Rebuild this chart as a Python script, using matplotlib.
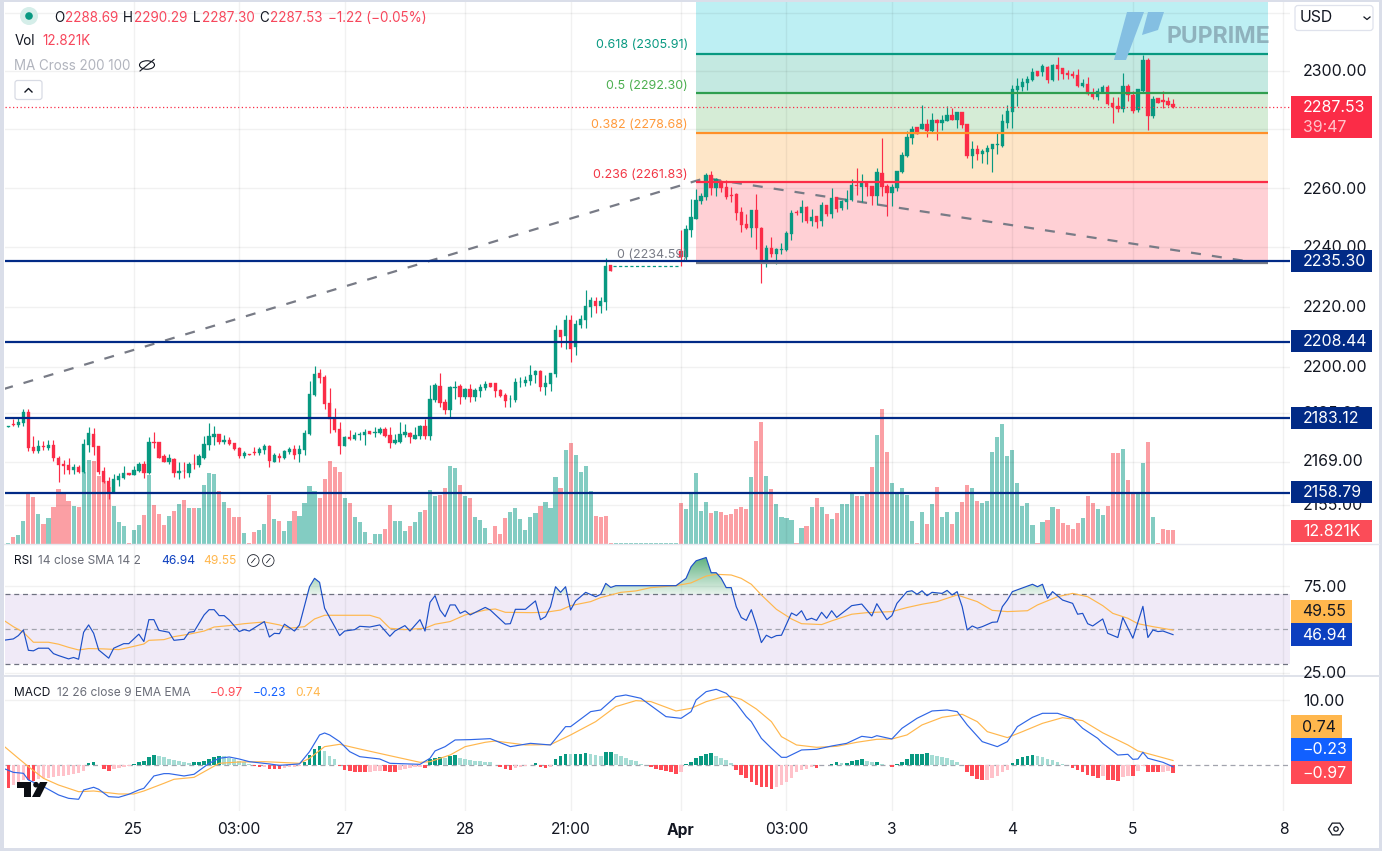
import numpy as np
import matplotlib
matplotlib.use("Agg")
import matplotlib.pyplot as plt
from matplotlib.patches import Rectangle, Polygon, Circle, Ellipse, FancyBboxPatch
from matplotlib.path import Path
from matplotlib.ticker import NullLocator

plt.rcParams['font.family'] = ['Inter', 'DejaVu Sans']

W, H = 1382, 851

opens = [
    2180.3, 2181.3, 2180.9, 2181.7, 2185.1, 2173.6, 2172.4, 2174.0, 2173.4, 2174.4,
    2170.0, 2168.3, 2168.0, 2166.3, 2167.3, 2165.7, 2174.4, 2177.9, 2174.0, 2166.0,
    2162.7, 2159.0, 2163.0, 2163.7, 2165.4, 2164.7, 2166.0, 2168.3, 2165.4, 2175.4,
    2175.4, 2170.7, 2169.0, 2169.7, 2165.4, 2166.0, 2165.3, 2168.3, 2168.0, 2170.0,
    2174.4, 2176.9, 2177.9, 2175.4, 2175.9, 2175.1, 2173.4, 2170.7, 2171.4, 2172.0,
    2171.7, 2172.7, 2174.0, 2169.0, 2170.7, 2170.0, 2172.0, 2173.0, 2171.4, 2172.7,
    2177.9, 2190.8, 2198.0, 2196.6, 2188.1, 2183.3, 2179.6, 2174.0, 2177.0, 2176.5,
    2177.5, 2177.5, 2178.9, 2178.3, 2178.2, 2179.6, 2177.5, 2175.1, 2175.5, 2177.5,
    2178.2, 2176.5, 2177.2, 2180.6, 2177.2, 2189.1, 2193.8, 2188.5, 2186.0, 2193.1,
    2193.8, 2190.1, 2192.8, 2190.1, 2192.2, 2193.1, 2194.8, 2194.8, 2192.5, 2190.8,
    2189.3, 2189.1, 2194.9, 2194.8, 2195.5, 2197.2, 2198.7, 2193.5, 2194.5, 2197.6,
    2212.2, 2210.2, 2215.6, 2206.5, 2213.9, 2215.6, 2219.9, 2221.9, 2220.3, 2221.6,
    2233.9, np.nan, np.nan, np.nan, np.nan, np.nan, np.nan, np.nan, np.nan, np.nan,
    np.nan, np.nan, np.nan, np.nan, 2238.7, 2236.6, 2245.8, 2249.5, 2255.6, 2256.8,
    2264.4, 2260.1, 2262.1, 2260.4, 2257.5, 2257.8, 2251.8, 2247.8, 2246.4, 2252.5,
    2246.4, 2235.7, 2239.7, 2237.7, 2239.1, 2239.1, 2244.4, 2251.8, 2251.5, 2253.5,
    2248.8, 2250.5, 2248.8, 2254.2, 2251.1, 2256.8, 2253.2, 2255.2, 2255.8, 2261.1,
    2260.4, 2261.7, 2260.7, 2257.2, 2265.1, 2260.7, 2258.2, 2260.1, 2265.4, 2270.8,
    2277.1, 2280.7, 2280.1, 2281.8, 2279.4, 2283.2, 2282.1, 2282.8, 2285.0, 2283.2,
    2286.0, 2281.8, 2270.8, 2273.1, 2271.5, 2272.1, 2273.1, 2274.5, 2274.1, 2282.2,
    2285.9, 2293.4, 2294.4, 2296.0, 2297.0, 2300.0, 2299.7, 2301.4, 2297.0, 2302.0,
    2301.0, 2299.4, 2299.0, 2298.7, 2294.8, 2295.5, 2292.4, 2291.1, 2292.8, 2294.4,
    2289.1, 2288.0, 2287.0, 2294.8, 2291.8, 2286.6, 2293.1, 2303.7, 2284.6, 2290.8,
    2290.1, 2289.7, 2288.69]
highs = [
    2180.7, 2182.9, 2183.1, 2186.1, 2186.1, 2177.3, 2176.1, 2175.6, 2175.9, 2176.1,
    2170.7, 2169.6, 2170.3, 2168.3, 2168.0, 2176.2, 2180.2, 2179.9, 2174.0, 2167.3,
    2164.0, 2165.0, 2165.4, 2167.7, 2165.4, 2167.7, 2169.0, 2169.3, 2176.9, 2178.5,
    2175.4, 2171.4, 2171.4, 2170.0, 2168.7, 2169.0, 2169.0, 2171.4, 2171.4, 2177.2,
    2181.6, 2180.6, 2177.9, 2177.5, 2176.9, 2175.1, 2173.7, 2172.4, 2171.4, 2173.7,
    2173.7, 2174.7, 2174.4, 2171.7, 2171.7, 2172.7, 2173.7, 2174.4, 2174.4, 2179.2,
    2195.5, 2200.3, 2199.3, 2197.3, 2193.1, 2186.4, 2181.9, 2177.3, 2179.2, 2178.5,
    2178.5, 2179.6, 2178.9, 2180.2, 2180.2, 2180.2, 2180.2, 2177.9, 2181.9, 2181.2,
    2178.5, 2180.2, 2180.9, 2182.9, 2194.1, 2194.8, 2197.9, 2189.5, 2193.8, 2195.5,
    2194.5, 2193.1, 2194.5, 2193.1, 2194.5, 2195.5, 2194.8, 2194.8, 2192.8, 2191.5,
    2190.8, 2196.5, 2196.8, 2197.1, 2200.7, 2199.0, 2199.0, 2197.5, 2198.0, 2213.9,
    2212.2, 2217.2, 2217.2, 2215.6, 2217.2, 2225.6, 2223.3, 2223.3, 2223.3, 2236.3,
    2233.9, np.nan, np.nan, np.nan, np.nan, np.nan, np.nan, np.nan, np.nan, np.nan,
    np.nan, np.nan, np.nan, np.nan, 2245.8, 2247.4, 2256.2, 2259.5, 2258.1, 2265.1,
    2265.8, 2263.4, 2262.8, 2262.8, 2260.4, 2258.2, 2253.5, 2251.1, 2252.5, 2257.8,
    2246.8, 2240.7, 2243.4, 2239.7, 2241.4, 2245.4, 2252.5, 2252.5, 2255.8, 2253.8,
    2252.8, 2250.5, 2255.2, 2254.2, 2259.9, 2256.8, 2255.8, 2259.2, 2263.1, 2266.8,
    2264.8, 2261.7, 2260.7, 2266.8, 2276.9, 2261.4, 2261.4, 2265.8, 2272.2, 2279.3,
    2281.1, 2280.7, 2288.4, 2283.5, 2285.6, 2283.5, 2285.0, 2288.0, 2287.3, 2286.0,
    2286.0, 2281.8, 2275.8, 2274.5, 2273.1, 2274.5, 2274.8, 2278.7, 2285.3, 2288.3,
    2295.1, 2297.7, 2297.7, 2298.3, 2301.0, 2300.0, 2302.4, 2301.7, 2302.4, 2304.7,
    2301.0, 2300.4, 2300.0, 2300.7, 2297.3, 2298.0, 2294.1, 2294.1, 2295.1, 2295.1,
    2291.1, 2291.1, 2299.3, 2295.5, 2293.1, 2293.8, 2305.7, 2304.4, 2291.4, 2290.8,
    2293.1, 2291.1, 2290.29]
lows = [
    2180.2, 2180.7, 2180.2, 2180.7, 2172.4, 2171.8, 2171.8, 2172.7, 2172.9, 2169.3,
    2162.5, 2164.9, 2165.1, 2165.1, 2165.2, 2165.3, 2172.0, 2171.0, 2165.1, 2162.0,
    2156.8, 2158.7, 2161.0, 2163.4, 2164.7, 2164.7, 2165.6, 2163.7, 2165.0, 2173.4,
    2170.0, 2168.7, 2168.3, 2164.0, 2163.4, 2163.7, 2164.0, 2166.7, 2167.3, 2169.7,
    2172.7, 2174.4, 2174.7, 2174.7, 2174.4, 2172.7, 2170.0, 2170.0, 2171.0, 2171.0,
    2171.0, 2171.4, 2167.3, 2168.7, 2169.0, 2169.7, 2171.4, 2169.7, 2169.0, 2171.0,
    2177.6, 2190.5, 2194.8, 2186.1, 2178.3, 2178.6, 2171.4, 2174.0, 2175.9, 2175.9,
    2175.9, 2174.4, 2177.9, 2176.9, 2177.9, 2176.9, 2173.4, 2174.7, 2175.2, 2176.9,
    2175.2, 2176.2, 2176.5, 2176.2, 2175.9, 2188.5, 2186.8, 2184.6, 2183.3, 2189.5,
    2187.8, 2189.5, 2188.5, 2188.8, 2190.1, 2192.5, 2193.5, 2190.1, 2190.1, 2186.8,
    2186.8, 2188.5, 2193.5, 2193.8, 2194.1, 2194.8, 2192.2, 2190.8, 2192.2, 2196.7,
    2206.6, 2205.8, 2201.6, 2204.0, 2212.9, 2212.9, 2216.6, 2217.9, 2217.9, 2218.9,
    2232.0, np.nan, np.nan, np.nan, np.nan, np.nan, np.nan, np.nan, np.nan, np.nan,
    np.nan, np.nan, np.nan, np.nan, 2233.7, 2235.5, 2243.4, 2249.5, 2254.5, 2255.8,
    2257.5, 2257.2, 2258.5, 2256.2, 2255.2, 2249.1, 2245.1, 2246.1, 2243.4, 2239.4,
    2228.0, 2233.3, 2236.7, 2234.3, 2237.7, 2238.7, 2242.4, 2250.8, 2248.5, 2248.1,
    2247.1, 2246.4, 2247.1, 2250.5, 2249.8, 2251.8, 2252.5, 2252.8, 2255.5, 2257.5,
    2255.2, 2257.2, 2254.2, 2254.2, 2257.2, 2250.5, 2253.8, 2259.0, 2265.1, 2270.5,
    2275.0, 2278.4, 2280.0, 2277.4, 2279.0, 2276.4, 2279.7, 2282.8, 2283.2, 2280.4,
    2280.4, 2270.1, 2266.8, 2269.4, 2268.4, 2268.1, 2265.4, 2271.5, 2273.8, 2280.4,
    2280.4, 2288.0, 2293.1, 2293.4, 2296.6, 2298.3, 2298.3, 2295.7, 2296.7, 2297.0,
    2297.3, 2297.3, 2297.6, 2294.4, 2294.4, 2291.8, 2290.4, 2290.1, 2292.4, 2288.4,
    2282.2, 2286.0, 2286.0, 2289.7, 2285.6, 2286.0, 2292.8, 2279.8, 2283.9, 2288.8,
    2287.4, 2288.1, 2287.30]
closes = [
    2180.7, 2180.9, 2182.0, 2185.1, 2173.4, 2172.4, 2174.0, 2173.7, 2174.4, 2170.0,
    2168.0, 2167.7, 2166.3, 2167.3, 2165.7, 2174.7, 2178.2, 2173.7, 2165.7, 2162.4,
    2158.8, 2163.4, 2164.4, 2165.4, 2164.7, 2166.3, 2168.3, 2165.4, 2175.4, 2175.1,
    2170.3, 2169.0, 2170.0, 2165.4, 2166.0, 2165.8, 2168.3, 2168.1, 2170.7, 2174.7,
    2177.2, 2177.9, 2175.4, 2175.9, 2174.7, 2173.0, 2170.7, 2171.7, 2171.0, 2171.7,
    2173.0, 2174.0, 2169.3, 2171.0, 2170.0, 2172.4, 2173.0, 2171.0, 2173.0, 2178.2,
    2191.1, 2197.7, 2196.3, 2187.8, 2182.9, 2179.3, 2174.0, 2177.0, 2176.4, 2177.5,
    2177.9, 2178.5, 2177.9, 2178.5, 2179.6, 2177.2, 2175.1, 2175.9, 2177.9, 2178.5,
    2176.9, 2177.5, 2180.6, 2177.2, 2189.5, 2194.1, 2188.1, 2186.0, 2193.5, 2193.5,
    2190.1, 2192.8, 2190.1, 2192.5, 2193.5, 2194.5, 2193.5, 2192.1, 2190.5, 2188.8,
    2189.5, 2195.2, 2195.2, 2195.8, 2197.5, 2198.7, 2193.5, 2194.8, 2198.0, 2212.2,
    2209.8, 2215.6, 2206.1, 2214.2, 2215.9, 2220.2, 2222.3, 2220.3, 2221.9, 2233.7,
    2232.0, np.nan, np.nan, np.nan, np.nan, np.nan, np.nan, np.nan, np.nan, np.nan,
    np.nan, np.nan, np.nan, np.nan, 2236.7, 2246.1, 2250.1, 2255.8, 2257.2, 2264.4,
    2260.1, 2263.1, 2260.1, 2256.8, 2257.2, 2251.5, 2247.4, 2246.4, 2252.5, 2246.4,
    2235.7, 2239.7, 2237.7, 2239.4, 2239.4, 2244.8, 2251.5, 2251.5, 2253.5, 2248.8,
    2250.1, 2248.4, 2254.2, 2251.1, 2256.5, 2252.8, 2255.5, 2256.2, 2261.1, 2260.7,
    2262.1, 2260.4, 2257.2, 2265.4, 2260.4, 2258.2, 2260.4, 2265.8, 2271.2, 2277.4,
    2280.1, 2278.4, 2281.9, 2279.4, 2283.2, 2282.1, 2283.2, 2285.0, 2283.2, 2286.0,
    2281.5, 2270.8, 2273.1, 2271.5, 2272.5, 2273.5, 2274.8, 2274.8, 2282.8, 2286.3,
    2293.8, 2294.8, 2296.3, 2297.3, 2299.7, 2298.3, 2301.7, 2297.0, 2302.0, 2300.7,
    2299.0, 2298.7, 2298.3, 2294.8, 2295.8, 2292.1, 2291.1, 2293.1, 2294.4, 2288.7,
    2287.6, 2287.0, 2294.8, 2291.8, 2286.3, 2293.8, 2303.7, 2284.6, 2290.4, 2288.8,
    2289.4, 2288.4, 2287.53]
volumes = [
    1.2, 6.6, 8.3, 20.9, 45.0, 42.3, 27.1, 18.2, 23.5, 33.4,
    49.5, 45.9, 38.7, 34.3, 33.4, 64.7, 75.4, 74.5, 61.1, 56.6,
    51.3, 34.3, 20.0, 16.4, 1.2, 12.8, 17.3, 26.2, 62.0, 35.2,
    27.1, 17.3, 25.3, 29.8, 36.1, 39.6, 32.5, 32.5, 32.5, 53.0,
    63.8, 62.9, 47.7, 37.8, 32.5, 24.4, 24.4, 10.1, 1.2, 11.0,
    12.8, 18.2, 44.1, 22.6, 20.9, 11.9, 20.9, 29.8, 25.3, 37.0,
    52.2, 47.7, 41.4, 58.4, 74.5, 69.1, 64.7, 41.4, 37.0, 24.4,
    20.0, 11.0, 1.2, 9.2, 9.2, 13.7, 35.2, 20.9, 20.9, 11.9,
    16.4, 20.0, 28.9, 30.7, 48.6, 43.2, 44.1, 50.4, 70.0, 68.2,
    53.0, 42.9, 41.1, 24.1, 21.5, 14.3, 0.9, 16.1, 8.9, 23.2,
    28.6, 32.2, 22.4, 12.5, 24.1, 27.7, 34.0, 37.5, 32.2, 59.9,
    50.0, 83.9, 90.2, 79.5, 64.4, 69.7, 47.4, 25.0, 24.1, 25.0,
    0.9, 0.6, 0.6, 0.6, 0.6, 0.6, 0.6, 0.6, 0.6, 0.6,
    0.6, 0.6, 0.6, 0.6, 36.7, 31.3, 45.6, 63.5, 29.5, 37.5,
    27.7, 29.5, 28.6, 25.9, 26.8, 31.3, 33.0, 31.3, 59.9, 92.0,
    109.0, 60.8, 49.0, 35.8, 24.1, 23.2, 21.5, 0.9, 14.3, 16.1,
    33.0, 41.1, 33.0, 26.8, 22.4, 27.7, 35.8, 35.8, 45.6, 42.9,
    42.9, 45.6, 68.8, 97.6, 120.8, 82.2, 54.5, 44.7, 50.0, 44.0,
    20.9, 0.9, 28.9, 18.2, 36.0, 51.3, 24.4, 28.9, 18.2, 28.9,
    37.8, 53.0, 50.4, 38.7, 37.0, 38.7, 82.5, 95.9, 107.6, 79.0,
    84.3, 54.9, 34.3, 37.0, 17.3, 1.2, 20.0, 21.8, 33.4, 31.6,
    19.1, 17.3, 13.7, 19.1, 23.6, 43.2, 37.0, 31.6, 26.2, 34.3,
    81.7, 81.7, 85.3, 57.5, 46.0, 46.0, 72.8, 91.5, 24.4, 1.2,
    13.7, 12.8, 12.821]
# bars where the volume colour differs from the candle
vol_red_bars = [119, 120]

levels = [2235.30, 2208.44, 2183.12, 2158.79]
fib_vals = [2305.91, 2292.30, 2278.68, 2261.83, 2234.59]
fib_names = ["0.618", "0.5", "0.382", "0.236", "0"]
grid_prices = [2320, 2300, 2280, 2260, 2240, 2220, 2200, 2185, 2169, 2155]
trend_x = [0, 139.8, 249]
trend_y = [2192.7, 2263.3, 2234.9]

rsi_x = [0, 2, 3, 4, 5, 6, 7, 9, 10, 11, 13, 14, 15, 16, 17, 18, 19, 21, 22, 24, 25, 27, 28, 29, 30,
         31, 33, 34, 36, 37, 38, 40, 41, 42, 43, 44, 45, 47, 48, 49, 52, 53, 54, 55, 56, 58, 59, 61, 62, 63,
         64, 67, 68, 70, 71, 73, 75, 77, 78, 80, 81, 83, 84, 85, 86, 87, 88, 89, 90, 91, 92, 93, 96, 97, 100,
         101, 102, 104, 106, 107, 108, 109, 110, 111, 112, 113, 114, 115, 116, 118, 119, 120, 121, 122, 134,
         136, 137, 138, 140, 141, 142, 143, 144, 145, 146, 147, 148, 149, 150, 151, 152, 153, 154, 155, 157,
         158, 159, 160, 161, 162, 163, 164, 165, 166, 169, 171, 173, 174, 176, 177, 178, 180, 181, 182, 183,
         184, 185, 187, 188, 189, 190, 191, 192, 193, 194, 195, 197, 198, 199, 200, 201, 205, 206, 207, 208,
         209, 211, 213, 214, 215, 216, 217, 219, 220, 222, 223, 225, 227, 228, 229, 230, 231, 233]
rsi_y = [43.7, 44.5, 46.4, 49.6, 38, 37.7, 39.2, 39.2, 36.1, 35, 33.1, 33.9, 32.9, 48.3, 52.5, 47.7, 38.2, 33.5, 39.2, 41.8, 41.8, 47.2, 43, 55.5, 55.5,
         49.4, 48.3, 43.7, 44.3, 48.3, 48.7, 58.2, 61.2, 61.2, 57.8, 57.8, 55.3, 48.7, 49.8, 49, 54.4, 45.6, 47.7, 47.5, 52.9, 49, 52.5, 74.3, 79.1, 76.8,
         62, 46.4, 49, 49.8, 51.7, 51.3, 52.5, 46, 49, 52.1, 49, 55.5, 49, 65.4, 69.2, 61, 57.2, 63.9, 63.9, 59.1, 60.5, 58.2, 62.5, 61, 53,
         53.2, 61.4, 61.4, 66.2, 55.5, 57.2, 62.9, 74.3, 71.1, 74.3, 61, 66.2, 68.6, 71.1, 68.6, 70, 76.2, 73.9, 74.9, 74.9,
         79.1, 85.7, 89.1, 91, 82.3, 82.3, 79.1, 73.8, 73.8, 62.9, 56.7, 55.1, 61.2, 52.5, 42.4, 46.6, 45.1, 46.4, 46.6, 59.3,
         57.8, 60.6, 55.3, 56.3, 55.1, 59.7, 56.3, 60.6, 56.8, 63.5, 64.4, 57.6, 64.6, 55.5, 57.8, 64.8, 71.5, 72, 70, 72,
         69.2, 71.1, 70.5, 72.2, 69.6, 71.5, 62.9, 49.6, 51.9, 50.6, 51.5, 54, 54.2, 62.9, 66.7, 71.5, 75.7, 74.3, 75.7, 67.7,
         71.5, 66.7, 64.8, 58.6, 59.1, 53.2, 51.9, 55.9, 47.7, 45.3, 56.7, 44.9, 63.1, 45.3, 49.6, 48.7, 49, 46.94]
rsi_ma_x = [0, 2, 4, 6, 9, 11, 13, 15, 17, 20, 23, 25, 28, 29, 32, 34, 37, 40, 42, 45, 48, 52, 55, 57, 60, 62, 64, 67, 73, 75,
            77, 80, 84, 86, 89, 92, 96, 98, 100, 105, 108, 111, 113, 117, 119, 123, 126, 129, 134, 137, 140, 142, 145, 147, 149,
            151, 154, 157, 159, 163, 165, 169, 172, 177, 180, 183, 186, 190, 194, 197, 200, 204, 206, 210, 213, 216, 219, 221, 224,
            226, 229, 233]
rsi_ma_y = [55.3, 51.5, 48.3, 42.6, 42.6, 41.5, 39.7, 38.2, 39, 38.8, 38.4, 39.6, 41.6, 43.7, 44.1, 45.8, 47.2, 49, 51.3, 52.1, 53.2, 54.2, 52.5, 50.6, 51.5, 55.9, 58, 58, 58, 56.3,
            50.6, 49.8, 50.6, 52.9, 54.4, 58.2, 61, 61.6, 59.7, 59.5, 59.7, 61, 63.5, 65.8, 68.1, 71.1, 71.9, 73.8, 74.9, 76.5, 80.4, 81.4, 81, 79.1, 75.7,
            69.6, 61.4, 55.9, 53.2, 52.7, 54.8, 58.6, 59.5, 60.1, 62.4, 64.3, 65.8, 69.6, 65.8, 60.8, 60.1, 60.6, 63.9, 68.6, 70.5, 68.6, 63.5, 59.1, 56.3,
            53.2, 51.5, 49.55]

macd_x = [0, 2, 4, 5, 8, 11, 13, 15, 16, 18, 19, 21, 23, 25, 27, 28, 30, 32, 33, 36, 38, 41, 43, 45, 47, 49, 53, 55, 59, 61, 63, 64, 65, 67,
          69, 71, 75, 77, 83, 85, 86, 88, 90, 93, 97, 98, 101, 105, 109, 112, 113, 117, 119, 122, 124, 127, 132, 135, 137, 138, 140, 142, 144, 146,
          148, 149, 151, 153, 155, 156, 159, 162, 165, 168, 171, 173, 174, 177, 179, 182, 185, 188, 190, 192, 195, 198, 200, 202, 205, 207, 210,
          213, 215, 218, 219, 222, 224, 225, 226, 227, 228, 231, 233]
macd_y = [-0.46, -1.08, -1.23, -2.26, -3.28, -4.56, -5.08, -5.23, -3.8, -3.38, -3.69, -4.82, -4.92, -4.46, -3.79, -3.54, -1.64, -1.28, -1.28, -1.64, -1.38, 0.31, 1.08, 1.28, 0.97, 0.56, 0.21, 0, 0.21, 2.1, 4.67, 4.97, 4.67, 3.64,
          2.1, 1.33, 0.97, 0.31, 0.15, 1.08, 2.21, 2.87, 3.9, 3.95, 4.1, 3.79, 2.87, 3.38, 3.13, 5.95, 5.95, 8.26, 8.51, 10.56, 10.82, 10.31, 7.49, 7.23, 8.26, 10.05, 11.33, 11.69, 11.08, 9.54,
          7.49, 6.72, 4.15, 2.62, 1.23, 1.23, 2.36, 2.46, 2.97, 3.38, 4.46, 4.26, 4.56, 4.05, 5.69, 7.23, 8.36, 8.51, 8.26, 6.21, 3.64, 2.87, 3.64, 5.95, 7.38, 8, 8,
          7.23, 5.69, 4.15, 3.38, 1.58, 1.69, 0.92, 0.97, 2, 1.08, 0.46, -0.23]
signal_x = [0, 3, 5, 8, 11, 15, 18, 23, 26, 28, 32, 34, 38, 41, 43, 47, 52, 59, 61, 64, 67, 71, 77, 83, 85, 89, 92, 96, 98, 104, 109, 113, 118, 122,
            126, 129, 134, 137, 140, 143, 145, 147, 150, 153, 155, 158, 162, 166, 170, 174, 177, 180, 183, 187, 191, 194, 196, 200, 203, 207, 211, 215,
            219, 224, 226, 229, 233]
signal_y = [3.03, 1.08, -0.2, -2, -3.03, -4.06, -3.95, -4.41, -4.41, -3.95, -2.77, -2.15, -1.85, -0.56, 0.31, 0.51, 0.56, 0.31, 1.08, 2.87, 3.23, 2.51, 1.48, 0.46, 0.56, 1.59, 2.87, 3.54, 3.74, 3.13, 3.18, 4.67, 6.72, 9.03,
            9.95, 9.8, 8.36, 8.77, 9.79, 10.46, 10.62, 10.15, 8.67, 6.72, 4.41, 3.13, 2.77, 2.92, 3.54, 4, 4.05, 4.67, 6.21, 7.38, 7.85, 6.72, 5.18, 4.26, 5.18, 6.46, 7.33, 6.87,
            5, 3.13, 2.21, 1.59, 0.74]
hist = [
    -3.5, -3.0, -2.5, -2.2, -2.3, -2.4, -2.1, -2.0, -1.9, -1.8,
    -1.7, -1.6, -1.5, -1.4, -1.2, -0.9, 0.3, 0.5, 0.05, -0.5,
    -0.8, -0.5, -0.4, -0.3, -0.1, 0.2, 0.5, 0.6, 1.3, 1.6,
    1.4, 1.3, 1.0, 0.8, 0.6, 0.5, 0.4, 0.45, 0.5, 0.7,
    1.0, 1.3, 1.5, 1.4, 1.2, 1.0, 0.7, 0.5, 0.2, -0.1,
    -0.3, -0.25, -0.5, -0.55, -0.6, -0.4, -0.3, -0.2, -0.1, 0.5,
    1.6, 2.5, 2.9, 2.2, 1.5, 0.9, -0.1, -0.7, -0.9, -1.0,
    -1.02, -1.05, -1.0, -0.9, -0.8, -0.9, -1.0, -1.05, -0.7, -0.5,
    -0.4, -0.3, -0.2, -0.4, 1.0, 1.2, 1.3, 1.2, 1.5, 1.55,
    1.2, 1.0, 0.8, 0.7, 0.6, 0.55, 0.5, 0.1, -0.3, -0.5,
    -0.7, -0.4, -0.3, -0.1, 0.1, 0.3, -0.3, -0.4, -0.2, 0.9,
    1.4, 1.8, 1.7, 1.75, 1.8, 1.9, 1.7, 1.6, 1.5, 2.0,
    2.05, 1.8, 1.5, 1.2, 0.8, 0.6, 0.2, 0.1, -0.3, -0.5,
    -0.7, -0.9, -1.1, -1.3, -1.0, 0.2, 0.5, 1.2, 1.5, 1.8,
    1.85, 1.4, 1.1, 0.8, 0.3, -0.7, -1.5, -2.0, -2.6, -3.0,
    -3.3, -3.4, -3.6, -3.4, -3.1, -2.6, -1.9, -1.1, -0.7, -0.5,
    -0.3, -0.35, 0.05, 0.1, 0.2, 0.45, 0.3, 0.4, 0.6, 0.8,
    0.9, 0.6, 0.5, 0.55, 0.2, 0.1, -0.2, 0.2, 0.5, 0.9,
    1.7, 1.75, 1.8, 1.85, 1.6, 1.5, 1.3, 1.1, 0.8, 0.5,
    0.0, -1.1, -1.7, -2.1, -2.3, -2.25, -2.0, -1.7, -1.1, -0.7,
    0.4, 0.9, 1.3, 1.4, 1.6, 1.4, 1.3, 1.0, 0.8, 0.5,
    0.2, 0.0, -0.4, -0.7, -1.1, -1.5, -1.7, -1.9, -1.7, -2.2,
    -2.3, -2.35, -1.8, -1.6, -1.65, -0.9, -0.1, -1.0, -1.0, -1.1,
    -1.0, -0.9, -1.2]

date_pos = [26, 47, 68, 92, 113, 135, 156, 177, 201, 225, 255]
date_labels = ["25", "03:00", "27", "28", "21:00", "Apr", "03:00", "3", "4", "5", "8"]

GREEN = '#089981'
RED = '#fb2c47'
NAVY = '#012a86'
TXT = '#131722'
GREY = '#6a6d78'
LEGRED = '#f7475c'

bars = np.arange(1, len(opens) + 1)
o = np.array(opens)
h = np.array(highs)
l = np.array(lows)
c = np.array(closes)
up = c >= o
xlim = (0.34, 256.3)


def pane(top, bottom):
    # axes from pixel rows, left/right are the same for all panes
    return fig.add_axes([5 / W, 1 - bottom / H, (1290 - 5) / W, (bottom - top) / H])


fig = plt.figure(figsize=(W / 100, H / 100), dpi=100, facecolor='white')

# ---- price pane
ax_v = pane(0, 544)
ax = pane(0, 544)
ax_v.set_zorder(1)
ax.set_zorder(2)
ax.patch.set_visible(False)

ax_v.bar(bars, volumes, width=0.82, linewidth=0,
         color=[('#fb9fa4' if (not up[i] or (i + 1) in vol_red_bars) and not np.isnan(o[i]) else '#83ccc2') for i in range(len(bars))])
ax_v.set_xlim(xlim)
ax_v.set_ylim(0, 486)
ax_v.axis('off')

ax.set_yscale('log')
ax.set_ylim(2142.3, 2324.65)
ax.set_xlim(xlim)

# fib bands
fib_left, fib_right = 138, 251.9
band_edges = [2324.65] + fib_vals
band_cols = ['#bdeff3', '#c4e9e1', '#d5ecd6', '#fee6c8', '#ffd0d5']
for i, col in enumerate(band_cols):
    ax.fill_between([fib_left, fib_right], band_edges[i + 1], band_edges[i], color=col, linewidth=0, zorder=1)

for p in grid_prices:
    ax.axhline(p, color='#000000', alpha=0.055, lw=1, zorder=1.5)
for d in date_pos:
    ax.axvline(d, color='#000000', alpha=0.055, lw=1, zorder=1.5)

ax.plot(trend_x, trend_y, color='#787b86', lw=1.6, dashes=(4.5, 5), zorder=2.5)

ax.vlines(bars, l, h, color=[GREEN if u else RED for u in up], lw=0.85, zorder=3)
ax.bar(bars, np.abs(c - o), bottom=np.minimum(o, c), width=0.68, color=[GREEN if u else RED for u in up],
       edgecolor=[GREEN if u else RED for u in up], linewidth=0.25, zorder=3.1)
ax.plot([121.5, 134.5], [2233.7, 2233.7], color=GREEN, lw=0.9, dashes=(2.5, 2), zorder=3)

ax.axhline(closes[-1], color=RED, lw=0.9, dashes=(1, 2), zorder=3.2)

fib_cols = [GREEN, '#2f9e4f', '#ff9029', '#fb2c47', '#787b86']
for val, col in zip(fib_vals, fib_cols):
    ax.plot([fib_left, fib_right], [val, val], color=col, lw=1.6, zorder=3.5, solid_capstyle='butt')
for lv in levels:
    ax.axhline(lv, color=NAVY, lw=1.6, zorder=4)

ax.xaxis.set_major_locator(NullLocator())
ax.yaxis.set_major_locator(NullLocator())
ax.yaxis.set_minor_locator(NullLocator())
for s in ax.spines.values():
    s.set_visible(False)

# ---- RSI pane
ax_r = pane(544, 675)
ax_r.set_xlim(xlim)
ax_r.set_ylim(23.9, 98.7)
ax_r.axhspan(30, 70, color='#f0eaf7', lw=0, zorder=1)
for g in [75, 25]:
    ax_r.axhline(g, color='#000000', alpha=0.055, lw=1, zorder=1.2)
for d in date_pos:
    ax_r.axvline(d, color='#000000', alpha=0.055, lw=1, zorder=1.2)
ax_r.axhline(70, color='#6f7280', lw=0.9, dashes=(4, 3), zorder=2)
ax_r.axhline(50, color='#a2a4ae', lw=0.9, dashes=(4, 3), zorder=2)
ax_r.axhline(30, color='#6f7280', lw=0.9, dashes=(4, 3), zorder=2)

over = ax_r.fill_between(rsi_x, 70, rsi_y, where=np.array(rsi_y) >= 70, interpolate=True, linewidth=0, alpha=0)
grad = np.zeros((64, 2, 4))
grad[..., :3] = matplotlib.colors.to_rgb('#2e9a58')
grad[..., 3] = np.linspace(0.8, 0.0, 64)[:, None]
im = ax_r.imshow(grad, extent=(xlim[0], xlim[1], 66, 92), aspect='auto', origin='upper', zorder=2.5)
im.set_clip_path(Path.make_compound_path(*over.get_paths()), ax_r.transData)
ax_r.set_xlim(xlim)
ax_r.set_ylim(23.9, 98.7)

ax_r.plot(rsi_ma_x, rsi_ma_y, color='#ffb74d', lw=0.85, zorder=3)
ax_r.plot(rsi_x, rsi_y, color='#1c4fc8', lw=0.85, zorder=3.2)
ax_r.set_xticks([])
ax_r.set_yticks([])
for s in ax_r.spines.values():
    s.set_visible(False)

# ---- MACD pane
ax_m = pane(676, 811)
ax_m.set_xlim(xlim)
ax_m.set_ylim(-7.03, 13.74)
ax_m.axhline(10, color='#000000', alpha=0.055, lw=1, zorder=1)
for d in date_pos:
    ax_m.axvline(d, color='#000000', alpha=0.055, lw=1, zorder=1)
ax_m.axhline(0, color='#a2a4ae', lw=0.9, dashes=(4, 3), zorder=1.2)
hist_cols = []
for i, v in enumerate(hist):
    prev = hist[i - 1] if i else v
    if v >= 0:
        hist_cols.append('#089981' if v > prev else '#a5dcd4')
    else:
        hist_cols.append('#ffc2ca' if v > prev else '#ff4a55')
ax_m.bar(bars, hist, width=0.72, color=hist_cols, linewidth=0, zorder=2)
ax_m.plot(signal_x, signal_y, color='#ffb74d', lw=0.85, zorder=3)
ax_m.plot(macd_x, macd_y, color='#2f66e6', lw=0.85, zorder=3.2)
ax_m.set_xticks([])
ax_m.set_yticks([])
for s in ax_m.spines.values():
    s.set_visible(False)

# ---- overlay in pixel coordinates for all the chrome
ov = fig.add_axes([0, 0, 1, 1], zorder=10)
ov.set_xlim(0, W)
ov.set_ylim(H, 0)
ov.axis('off')
ov.patch.set_visible(False)


def txt(x, y, s, color=TXT, size=9.7, ha='left', **kw):
    ov.text(x, y, s, color=color, fontsize=size, ha=ha, va='center', **kw)


def tag(y0, y1, s, bg, fg='white', right=1372, tx=1302):
    ov.add_patch(Rectangle((1291, y0), right - 1291, y1 - y0, color=bg, lw=0, zorder=5))
    ov.text(tx, (y0 + y1) / 2 + 0.5, s, color=fg, fontsize=11.4, va='center', zorder=6)


# frame strips and separators
ov.add_patch(Rectangle((0, 0), 4, H, color='#dadee9', lw=0))
ov.add_patch(Rectangle((0, 0), W, 2, color='#dadee9', lw=0))
ov.add_patch(Rectangle((1379, 0), 3, H, color='#dadee9', lw=0))
ov.add_patch(Rectangle((0, 848), W, 3, color='#dadee9', lw=0))
ov.plot([4, 1379], [544, 544], color='#e6e8ef', lw=1)
ov.plot([4, 1379], [675.5, 675.5], color='#dfe2ea', lw=1.4)

# watermark
ov.add_patch(Polygon([(1127, 12), (1144, 12), (1126, 60), (1114, 60)], closed=True, color='#84bfe2', lw=0))
ov.add_patch(Polygon([(1148, 12), (1164, 12), (1158, 30), (1142, 35)], closed=True, color='#84bfe2', lw=0))
txt(1167, 37, "PUPRIME", color='#8fb2bd', size=16.6, fontweight='bold')

# header legend
ov.add_patch(Circle((29, 16), 9, color='#d5eee9', lw=0))
ov.add_patch(Circle((29, 16), 3.8, color=GREEN, lw=0))
for x, lab, val in [(54, "O", "2288.69"), (123, "H", "2290.29"), (193, "L", "2287.30"), (259, "C", "2287.53")]:
    txt(x, 17.5, lab, color=TXT)
    txt(x + (11 if lab != "L" else 9), 17.5, val, color=LEGRED)
txt(328, 17.5, "\u22121.22 (\u22120.05%)", color=LEGRED)
txt(15, 41, "Vol", color=TXT)
txt(42, 41, "12.821K", color=LEGRED)
txt(14, 65.5, "MA Cross 200 100", color='#b2b5be')
ov.add_patch(Ellipse((147, 65), 15, 8.5, fc='none', ec=TXT, lw=0.8))
ov.plot([140, 154], [71, 59.5], color=TXT, lw=0.8)
ov.add_patch(FancyBboxPatch((15, 80.5), 27, 19, boxstyle="round,pad=0,rounding_size=2.5", fc='white', ec='#d8dbe4', lw=0.9))
ov.plot([25, 28.5, 32], [92, 88.5, 92], color=TXT, lw=1)

# fib labels
for y, name, val, col in zip([45.5, 86, 124.5, 174.5, 255], fib_names, fib_vals, ['#089981', '#4caf50', '#ff9a3c', '#f23645', '#787b86']):
    txt(688, y, "%s (%.2f)" % (name, val), color=col, size=9.0, ha='right')

# price axis labels
for y, s in [(72, "2300.00"), (189, "2260.00"), (248, "2240.00"), (308, "2220.00"),
             (368, "2200.00"), (413, "2185.00"), (462, "2169.00"), (506, "2155.00"), (587, "75.00"), (673, "25.00"), (701.5, "10.00")]:
    txt(1303, y, s, size=11.4)

ov.add_patch(Rectangle((1291, 96), 81, 42, color=RED, lw=0, zorder=5))
ov.text(1303, 108, "2287.53", color='white', fontsize=11.4, va='center', zorder=6)
ov.text(1303, 127, "39:47", color='#ffc4cb', fontsize=11.4, va='center', zorder=6)
tag(250, 272, "2235.30", NAVY, tx=1303)
tag(330, 352, "2208.44", NAVY, tx=1303)
tag(407, 429, "2183.12", NAVY, tx=1303)
tag(481, 503, "2158.79", NAVY, tx=1303)
tag(520, 542, "12.821K", '#fb4c58', tx=1303)
tag(600, 623, "49.55", '#ffb74d', fg=TXT, right=1352)
tag(623, 646, "46.94", '#0c3fbf', right=1352)
tag(715, 738, "0.74", '#ffb74d', fg=TXT, right=1342)
tag(738, 761, "\u22120.23", '#1160ff', right=1352)
tag(761, 784, "\u22120.97", '#ff4a55', right=1352)

# currency box
ov.add_patch(FancyBboxPatch((1295, 5.5), 78, 25, boxstyle="round,pad=0,rounding_size=3", fc='white', ec='#dfe2ec', lw=0.9, zorder=6))
ov.text(1300, 18, "USD", color=TXT, fontsize=11.4, va='center', zorder=7)
ov.plot([1364, 1367, 1370], [17, 19.5, 17], color=TXT, lw=0.9, zorder=7)

# indicator legends
txt(14, 560.5, "RSI", color=TXT, size=8.6)
txt(38.5, 560.5, "14 close SMA 14 2", color=GREY, size=8.6)
txt(161, 560.5, "46.94", color='#0c3fbf', size=8.6)
txt(203.5, 560.5, "49.55", color='#ffb74d', size=8.6)
txt(246.5, 560.5, "\u2298", color=TXT, size=6.5)
txt(261.5, 560.5, "\u2298", color=TXT, size=6.5)
txt(14, 693, "MACD", color=TXT, size=8.6)
txt(57, 693, "12 26 close 9 EMA EMA", color=GREY, size=8.6)
txt(210, 693, "\u22120.97", color='#ff4a55', size=8.6)
txt(253, 693, "\u22120.23", color='#1160ff', size=8.6)
txt(295, 693, "0.74", color='#ffb74d', size=8.6)

# time axis
for d, s in zip(date_pos, date_labels):
    xpx = 3.28 + d * 5.02
    ov.text(xpx, 830, s, color=TXT, fontsize=11.2, ha='center', va='center', fontweight='bold' if s == "Apr" else 'normal')

# settings icon
hex_a = np.deg2rad(np.arange(0, 360, 60))
ov.add_patch(Polygon(np.c_[1336 + 7.5 * np.cos(hex_a), 829 + 6.8 * np.sin(hex_a)], closed=True, fc='white', ec=TXT, lw=0.9))
ov.add_patch(Circle((1336, 829), 2.2, fc='white', ec=TXT, lw=0.9))

# tradingview mark
ov.add_patch(Polygon([(17, 782), (31, 782), (31, 797), (24, 797), (24, 787.5), (17, 787.5)], closed=True, color='#0b0e14', lw=0))
ov.add_patch(Circle((36, 784.7), 2.8, color='#0b0e14', lw=0))
ov.add_patch(Polygon([(40, 782), (47.5, 782), (40, 797), (32, 797)], closed=True, color='#0b0e14', lw=0))

fig.savefig('out.png', dpi=100, facecolor='white')
